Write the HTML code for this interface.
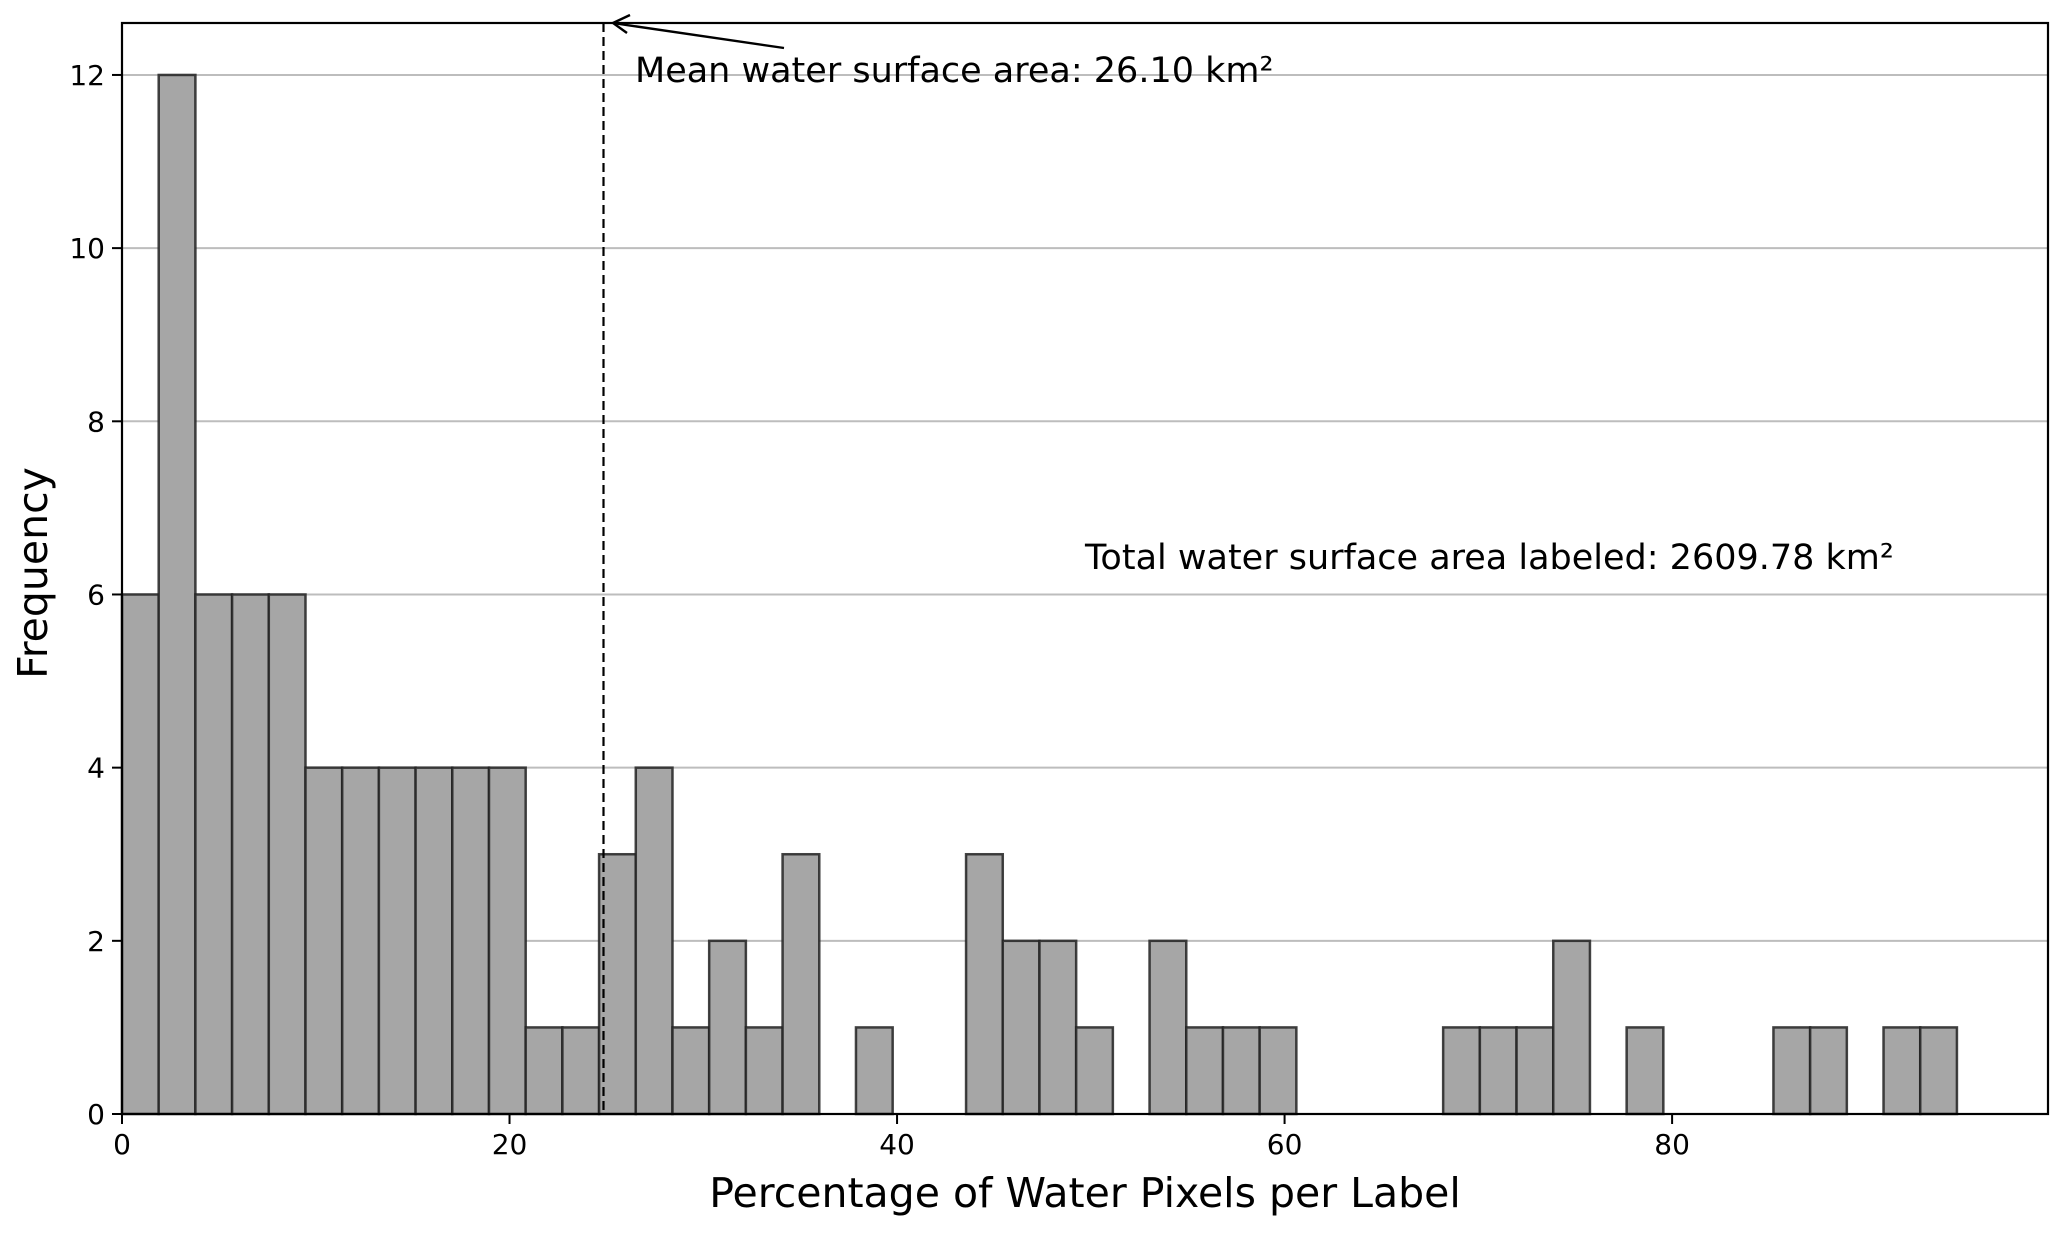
<!DOCTYPE html>
<html><head><meta charset="utf-8"><style>
html,body{margin:0;padding:0;background:#fff;}
svg{display:block;font-family:"DejaVu Sans","Liberation Sans",sans-serif;}
</style></head><body>
<svg id="chart" width="2067" height="1233" viewBox="0 0 2067 1233" xmlns="http://www.w3.org/2000/svg">
<g id="grid"></g>
<g id="bars"></g>
<g id="axes"></g>
</svg>
<script>
const counts = [6,12,6,6,6,4,4,4,4,4,4,1,1,3,4,1,2,1,3,0,1,0,0,3,2,2,1,0,2,1,1,1,0,0,0,0,1,1,1,2,0,1,0,0,0,1,1,0,1,1];
const binStart = [0];
const binWidthVal = [1.894];
const xTicks = [0,20,40,60,80];
const yTicks = [0,2,4,6,8,10,12];
const meanValue = [24.85];

const NS = 'http://www.w3.org/2000/svg';
const L = 122, R = 2048, T = 23, B = 1114;
const xMin = 0, xMax = 99.4, yMax = 12.6;
const sx = v => L + (v - xMin) / (xMax - xMin) * (R - L);
const sy = v => B - v / yMax * (B - T);
function mk(tag, attrs, parent) {
  const e = document.createElementNS(NS, tag);
  for (const k in attrs) e.setAttribute(k, attrs[k]);
  parent.appendChild(e); return e;
}
const grid = document.getElementById('grid');
const bars = document.getElementById('bars');
const axes = document.getElementById('axes');

yTicks.forEach(t => {
  if (t === 0) return;
  const g = mk('line', {x1:L, x2:R, y1:sy(t), y2:sy(t), stroke:'#bdbdbd', 'stroke-width':2}, grid);
  
  
});

counts.forEach((c, i) => {
  if (c === 0) return;
  const x0 = sx(binStart[0] + i * binWidthVal[0]);
  const x1 = sx(binStart[0] + (i + 1) * binWidthVal[0]);
  const r = mk('rect', {x:x0, y:sy(c), width:x1 - x0, height:sy(0) - sy(c), fill:'#a6a6a6', stroke:'#222', 'stroke-opacity':0.85, 'stroke-width':2.5}, bars);
  
  
});

const mx = sx(meanValue[0]);
const ml = mk('line', {x1:mx, x2:mx, y1:T, y2:B, stroke:'#000', 'stroke-width':2.2, 'stroke-dasharray':'9,5'}, axes);



const fr = mk('rect', {x:L, y:T, width:R - L, height:B - T, fill:'none', stroke:'#000', 'stroke-width':2.2}, axes);



xTicks.forEach(t => {
  const x = sx(t);
  const tk = mk('line', {x1:x, x2:x, y1:B, y2:B + 10, stroke:'#000', 'stroke-width':2}, axes);
  
  
  const tx = mk('text', {x:x, y:B + 40, 'font-size':28, 'text-anchor':'middle', fill:'#000'}, axes);
  tx.textContent = t;
  
  
});
yTicks.forEach(t => {
  const y = sy(t);
  const tk = mk('line', {x1:L - 10, x2:L, y1:y, y2:y, stroke:'#000', 'stroke-width':2}, axes);
  
  
  const tx = mk('text', {x:L - 17, y:y + 10, 'font-size':28, 'text-anchor':'end', fill:'#000'}, axes);
  tx.textContent = t;
  
  
});

const xl = mk('text', {x:1085, y:1207, 'font-size':41, 'text-anchor':'middle', fill:'#000'}, axes);
xl.textContent = 'Percentage of Water Pixels per Label';


const yl = mk('text', {x:0, y:0, 'font-size':41, 'text-anchor':'middle', fill:'#000', transform:'translate(47,573) rotate(-90)'}, axes);
yl.textContent = 'Frequency';



const ar = mk('line', {x1:784, y1:48, x2:616, y2:23.5, stroke:'#000', 'stroke-width':2.4}, axes);


const ah = mk('polyline', {points:'630,15 613,23 627,33', fill:'none', stroke:'#000', 'stroke-width':2.4}, axes);


const at = mk('text', {x:635, y:82, 'font-size':35, fill:'#000'}, axes);
at.textContent = 'Mean water surface area: 26.10 km²';


const tt = mk('text', {x:1085, y:569, 'font-size':35, fill:'#000'}, axes);
tt.textContent = 'Total water surface area labeled: 2609.78 km²';


</script>
</body></html>
